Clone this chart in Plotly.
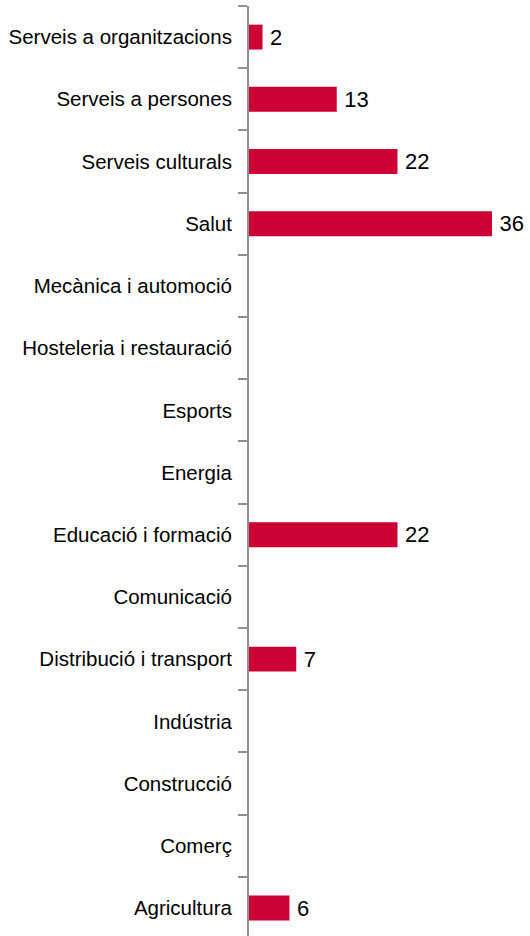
import plotly.graph_objects as go

categories = ["Serveis a organitzacions", "Serveis a persones", "Serveis culturals", "Salut",
              "Mecànica i automoció", "Hosteleria i restauració", "Esports", "Energia",
              "Educació i formació", "Comunicació", "Distribució i transport", "Indústria",
              "Construcció", "Comerç", "Agricultura"]
values = [2, 13, 22, 36, None, None, None, None, 22, None, 7, None, None, None, 6]
labels = ["" if v is None else "\u2009" + str(v) for v in values]

FONT = "Liberation Sans, Arial, sans-serif"

fig = go.Figure(go.Bar(
    y=categories, x=values, orientation="h",
    marker=dict(color="#CC0033", line=dict(width=0)),
    width=0.4,
    text=labels, textposition="outside", cliponaxis=False, constraintext="none",
    textfont=dict(size=22, color="#000000", family=FONT),
))

fig.update_layout(
    width=530, height=936,
    margin=dict(l=249, r=0, t=6, b=0),
    paper_bgcolor="white", plot_bgcolor="white",
    showlegend=False,
    font=dict(family=FONT, color="#000000"),
    xaxis=dict(range=[0, 281 / 6.75], visible=False, showgrid=False, zeroline=False),
    yaxis=dict(
        categoryorder="array", categoryarray=categories,
        range=[14.45, -0.5],
        showline=True, linecolor="#909090", linewidth=2,
        ticks="outside", tickson="boundaries", ticklen=9, tickcolor="#909090", tickwidth=2,
        tickfont=dict(size=20.5, color="#000000"),
        showgrid=False, zeroline=False, ticklabelstandoff=11,
    ),
)

fig.write_html("out.html", config={"displayModeBar": False},
               post_script="document.body.style.margin='0';document.body.style.overflow='hidden';")
